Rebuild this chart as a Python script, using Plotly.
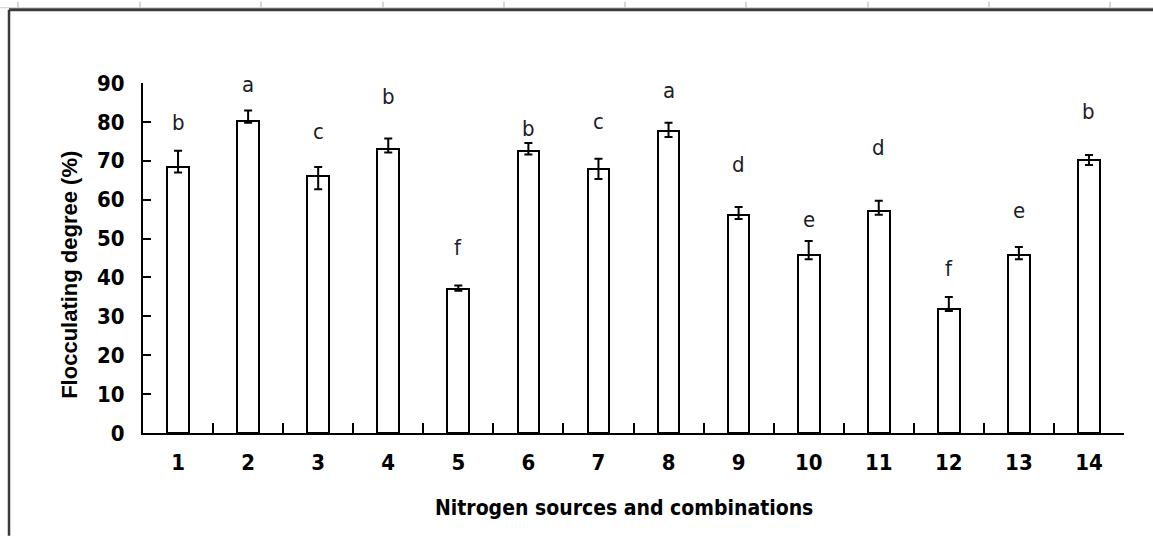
import plotly.graph_objects as go

# Flocculating degree for each nitrogen source / combination
categories = ["1", "2", "3", "4", "5", "6", "7", "8", "9", "10", "11", "12", "13", "14"]
degree = [68.5, 80.3, 66.0, 73.1, 37.1, 72.6, 67.9, 77.7, 56.1, 45.8, 57.2, 31.9, 45.8, 70.1]
err_plus = [4.1, 2.6, 2.4, 2.6, 0.8, 2.0, 2.6, 2.1, 2.0, 3.6, 2.5, 3.1, 2.0, 1.4]
err_minus = [1.5, 0.5, 3.3, 1.0, 0.5, 1.0, 2.6, 1.6, 1.1, 1.1, 1.1, 0.5, 1.1, 1.2]

# Significance groups and the height (%) at which each letter sits
groups = ["b", "a", "c", "b", "f", "b", "c", "a", "d", "e", "d", "f", "e", "b"]
group_y = [79.8, 89.5, 77.5, 86.5, 47.6, 78.4, 80.1, 88.1, 69.0, 55.0, 73.3, 42.2, 57.2, 82.7]

y_ticks = [0, 10, 20, 30, 40, 50, 60, 70, 80, 90]

NARROW = "DejaVu Sans Condensed, Liberation Sans Narrow, Arial Narrow, sans-serif"
WIDE = "Liberation Sans, Arial, sans-serif"

fig = go.Figure()
fig.add_trace(go.Bar(
    x=categories,
    y=degree,
    width=0.31,
    marker=dict(color="white", line=dict(color="black", width=2)),
    error_y=dict(type="data", symmetric=False, array=err_plus, arrayminus=err_minus,
                 color="black", thickness=2, width=4),
    showlegend=False,
))

# Letters are placed by category index on the category axis
for i, (g, gy) in enumerate(zip(groups, group_y)):
    fig.add_annotation(x=i, y=gy, text=g, showarrow=False, xref="x", yref="y",
                       xanchor="center", yanchor="middle",
                       font=dict(family=NARROW, size=22, color="#1c1c28"))

# Axis titles
fig.add_annotation(text="<b>Flocculating degree (%)</b>", textangle=-90,
                   xref="paper", yref="paper", x=-0.0744, y=0.452, showarrow=False,
                   xanchor="center", yanchor="middle",
                   font=dict(family=WIDE, size=22, color="black"))
fig.add_annotation(text="<b>Nitrogen sources and combinations</b>",
                   xref="paper", yref="paper", x=0.49, y=-0.213, showarrow=False,
                   xanchor="center", yanchor="middle",
                   font=dict(family=NARROW, size=21, color="black"))

# Sheet frame around the chart
W0, H0, L, T = 981.0, 350.0, 143.0, 433.3
px = lambda v: (v - L) / W0
py = lambda v: (T - v) / H0
shapes = [
    dict(type="line", xref="paper", yref="paper", x0=px(0), x1=px(1153), y0=py(8), y1=py(8),
         line=dict(color="#cfcfcf", width=1)),
    dict(type="line", xref="paper", yref="paper", x0=px(9), x1=px(1153), y0=py(10), y1=py(10),
         line=dict(color="#3a3a3a", width=3)),
    dict(type="line", xref="paper", yref="paper", x0=px(9), x1=px(9), y0=py(10), y1=py(536),
         line=dict(color="#3a3a3a", width=2.5)),
]
for cx in [18, 140, 261, 383, 504, 625, 746, 868, 989, 1110]:
    shapes.append(dict(type="line", xref="paper", yref="paper", x0=px(cx), x1=px(cx),
                       y0=py(2), y1=py(8), line=dict(color="#c8c8c8", width=1.5)))

fig.update_layout(
    width=1153, height=536,
    margin=dict(l=143, r=29, t=83, b=103),
    paper_bgcolor="white", plot_bgcolor="white",
    shapes=shapes,
    xaxis=dict(type="category", range=[-0.5, 13.5], tickson="boundaries",
               ticks="inside", ticklen=10, tickwidth=2, tickcolor="black",
               showline=True, linecolor="black", linewidth=2, showgrid=False,
               tickfont=dict(family=NARROW, size=22, color="black", weight="bold"),
               ticklabelstandoff=9),
    yaxis=dict(range=[0, 90], tickvals=y_ticks, ticks="inside", ticklen=8, tickwidth=2,
               tickcolor="black", showline=True, linecolor="black", linewidth=2,
               showgrid=False, zeroline=False,
               tickfont=dict(family=NARROW, size=22, color="black", weight="bold"),
               ticklabelstandoff=12),
    bargap=0,
)

fig.write_html("out.html")
